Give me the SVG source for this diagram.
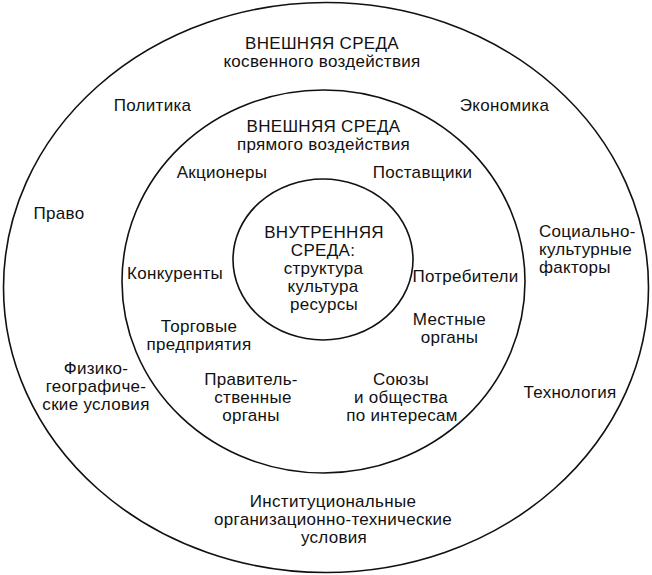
<svg xmlns="http://www.w3.org/2000/svg" width="652" height="575" viewBox="0 0 652 575">
<style>
.ring{fill:none;stroke:#111;stroke-width:1.6}
text{font-family:"Liberation Sans",Arial,sans-serif;font-size:17px;letter-spacing:0.3px;fill:#111}
.c{text-anchor:middle}
.s{text-anchor:start}
</style>
<rect width="652" height="575" fill="#fff"/>
<g id="outer">
<ellipse class="ring" cx="326" cy="287.5" rx="322.5" ry="285"/>
<text class="c" x="322" y="49">ВНЕШНЯЯ СРЕДА</text>
<text class="c" x="322" y="67">косвенного воздействия</text>
</g>
<g id="middle">
<ellipse class="ring" cx="323.5" cy="281.5" rx="201.5" ry="191.5"/>
<text class="c" x="323.5" y="132">ВНЕШНЯЯ СРЕДА</text>
<text class="c" x="323.5" y="150">прямого воздействия</text>
</g>
<g id="inner">
<ellipse class="ring" cx="323" cy="259.5" rx="90" ry="80.5"/>
<text class="c" x="324" y="238">ВНУТРЕННЯЯ</text>
<text class="c" x="323" y="256">СРЕДА:</text>
<text class="c" x="323.5" y="274">структура</text>
<text class="c" x="323" y="292">культура</text>
<text class="c" x="324" y="310">ресурсы</text>
</g>
<g id="n-politika"><text class="c" x="152.5" y="111">Политика</text></g>
<g id="n-ekonomika"><text class="c" x="504.5" y="111">Экономика</text></g>
<g id="n-pravo"><text class="c" x="59" y="219">Право</text></g>
<g id="n-social"><text class="s" x="539" y="237">Социально-</text><text class="s" x="539" y="255">культурные</text><text class="s" x="539" y="273">факторы</text></g>
<g id="n-fiz"><text class="c" x="96" y="374">Физико-</text><text class="c" x="96" y="392">географиче-</text><text class="c" x="96" y="410">ские условия</text></g>
<g id="n-tech"><text class="c" x="570" y="398">Технология</text></g>
<g id="n-inst"><text class="c" x="333" y="507">Институциональные</text><text class="c" x="333" y="525">организационно-технические</text><text class="c" x="334" y="543">условия</text></g>
<g id="n-akcion"><text class="c" x="222" y="178">Акционеры</text></g>
<g id="n-postav"><text class="c" x="422.5" y="178">Поставщики</text></g>
<g id="n-konk"><text class="c" x="175" y="279">Конкуренты</text></g>
<g id="n-potreb"><text class="c" x="465.5" y="282">Потребители</text></g>
<g id="n-torg"><text class="c" x="199" y="332">Торговые</text><text class="c" x="199" y="350">предприятия</text></g>
<g id="n-mest"><text class="c" x="449.5" y="325">Местные</text><text class="c" x="449.5" y="343">органы</text></g>
<g id="n-prav"><text class="c" x="251" y="385">Правитель-</text><text class="c" x="253" y="403">ственные</text><text class="c" x="251" y="421">органы</text></g>
<g id="n-soyuz"><text class="c" x="401" y="385">Союзы</text><text class="c" x="401" y="403">и общества</text><text class="c" x="402" y="421">по интересам</text></g>
</svg>
